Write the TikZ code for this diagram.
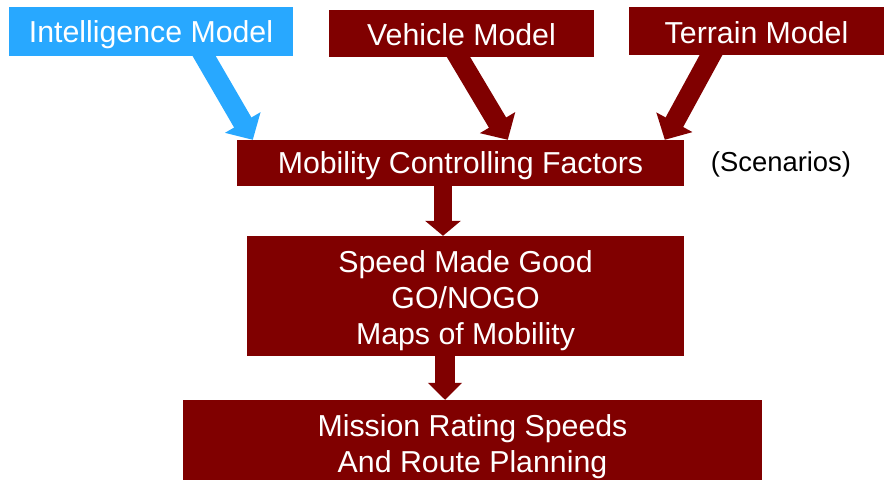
\documentclass[tikz,border=0pt]{standalone}
\usepackage{fontspec}
\setmainfont{Liberation Sans}
\usetikzlibrary{arrows.meta,calc}
\definecolor{maroonbox}{RGB}{128,0,0}
\definecolor{bluebox}{RGB}{40,168,255}
\pgfdeclarelayer{bg}
\pgfsetlayers{bg,main}
\begin{document}
\begin{tikzpicture}[x=1pt,y=-1pt,
  box/.style={draw=none,fill=maroonbox,inner sep=0pt},
  bluestyle/.style={box,fill=bluebox},
  txt/.style={text=white,inner sep=0pt,align=center,font=\fontsize{30.3}{36.3}\selectfont},
  slantarrow/.style={line width=20pt,-{Triangle[width=40pt,length=20pt]}},
  downarrow/.style={line width=18.5pt,-{Triangle[width=35pt,length=15pt]}},
  plain/.style={inner sep=0pt,font=\fontsize{27.4}{32}\selectfont}]
\useasboundingbox (0,0) rectangle (885,481);
% boxes
\node[bluestyle,minimum width=284pt,minimum height=49pt] (im) at (151,31.5) {};
\node[box,minimum width=265pt,minimum height=47pt] (vm) at (461.5,33.5) {};
\node[box,minimum width=255pt,minimum height=48pt] (tm) at (756.5,31) {};
\node[box,minimum width=447pt,minimum height=46pt] (mcf) at (460.5,163) {};
\node[box,minimum width=437pt,minimum height=120pt] (smg) at (465.5,296) {};
\node[box,minimum width=579pt,minimum height=80pt] (mrs) at (472.5,440) {};
% texts
\node[txt] (imt) at ($(im.center)+(0,3.5)$) {Intelligence Model};
\node[txt] (vmt) at ($(vm.center)+(0,1)$) {Vehicle Model};
\node[txt] (tmt) at ($(tm.center)+(0,2)$) {Terrain Model};
\node[txt] (mcft) at ($(mcf.center)+(0,3)$) {Mobility Controlling Factors};
\node[txt] (smgt) at ($(smg.center)+(0,4.5)$) {Speed Made Good\\GO/NOGO\\Maps of Mobility};
\node[txt] (mrst) at ($(mrs.center)+(0,7)$) {Mission Rating Speeds\\And Route Planning};
\node[plain] (sc) at (781,164.5) {(Scenarios)};
% connector anchor coordinates
\coordinate (s1) at (198.9,47);
\coordinate (s2) at (453.1,48);
\coordinate (s3) at (715.4,47);
\coordinate (xa) at (443,0);
\coordinate (xb) at (445,0);
\begin{pgfonlayer}{bg}
\draw[slantarrow,draw=bluebox] (s1) -- ($(mcf.north west)+(16,0)$);
\draw[slantarrow,draw=maroonbox] (s2) -- ($(mcf.north west)+(271,0)$);
\draw[slantarrow,draw=maroonbox] (s3) -- ($(mcf.north west)+(428,0)$);
\draw[downarrow,draw=maroonbox] ($(mcf.south -| xa)+(0,-4)$) -- (smg.north -| xa);
\draw[downarrow,draw=maroonbox,line width=20pt,-{Triangle[width=33pt,length=17pt]}] ($(smg.south -| xb)+(0,-4)$) -- (mrs.north -| xb);
\end{pgfonlayer}
\end{tikzpicture}
\end{document}
